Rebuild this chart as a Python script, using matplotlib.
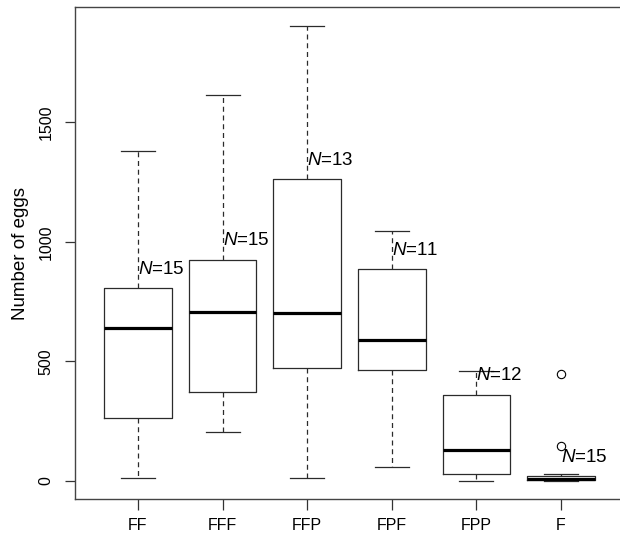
import matplotlib.pyplot as plt

plt.rcParams['font.family'] = ['Liberation Sans', 'DejaVu Sans']
plt.rcParams['mathtext.fontset'] = 'custom'
plt.rcParams['mathtext.it'] = 'Liberation Sans:italic'
plt.rcParams['mathtext.rm'] = 'Liberation Sans'

# datos
grupos = ["FF", "FFF", "FFP", "FPF", "FPP", "F"]
bigote_inf = [11, 204, 11, 59, 0, 0]
cuartil_1 = [261, 371, 470, 463, 28, 3]
mediana = [639, 707, 703, 587, 128, 8]
cuartil_3 = [805, 924, 1262, 885, 359, 18]
bigote_sup = [1381, 1614, 1903, 1045, 460, 30]
atipicos = [[], [], [], [], [], [145, 447]]
n_muestras = [15, 15, 13, 11, 12, 15]

W, H = 620, 538
fig = plt.figure(figsize=(W / 100, H / 100), dpi=100)
izq, der, arriba, abajo = 75.3, 620, 7, 499
ax = fig.add_axes([izq / W, (H - abajo) / H, (der - izq) / W, (abajo - arriba) / H])

stats = []
for i, g in enumerate(grupos):
    stats.append(dict(label=g, whislo=bigote_inf[i], q1=cuartil_1[i], med=mediana[i],
                      q3=cuartil_3[i], whishi=bigote_sup[i], fliers=atipicos[i]))

gris = "#2b2b2b"
ax.bxp(stats, positions=range(1, len(grupos) + 1), widths=0.8, capwidths=0.4,
       boxprops=dict(color=gris, linewidth=0.9),
       medianprops=dict(color="black", linewidth=2.3, solid_capstyle="butt"),
       whiskerprops=dict(color=gris, linewidth=0.9, linestyle=(0, (4, 3))),
       capprops=dict(color=gris, linewidth=0.9),
       flierprops=dict(marker="o", markersize=6, markerfacecolor="none",
                       markeredgecolor="black", markeredgewidth=0.8))

# etiquetas N
for i in range(len(grupos)):
    ax.text(i + 1, cuartil_3[i] + 80, r"$\it{N}$" + f"={n_muestras[i]}",
            ha="left", va="center", fontsize=13.5)

ax.set_xlim(0.259, 0.259 + (der - izq) / 84.6)
ax.set_ylim(-76.6, 1983)
ax.set_yticks([0, 500, 1000, 1500])
ax.tick_params(axis="y", length=7, width=0.9, pad=8.5, labelsize=11.5, colors="#333333",
               labelcolor="black")
for lab in ax.get_yticklabels():
    lab.set_rotation(90)
    lab.set_va("center")
ax.tick_params(axis="x", length=8, width=0.9, pad=6, labelsize=11.5, colors="#333333",
               labelcolor="black")
ax.set_ylabel("Number of eggs", fontsize=13.5, labelpad=7)

for s in ["left", "top", "bottom"]:
    ax.spines[s].set_color("#444444")
    ax.spines[s].set_linewidth(1.0)
ax.spines["right"].set_visible(False)

fig.savefig("out.png", dpi=100)
